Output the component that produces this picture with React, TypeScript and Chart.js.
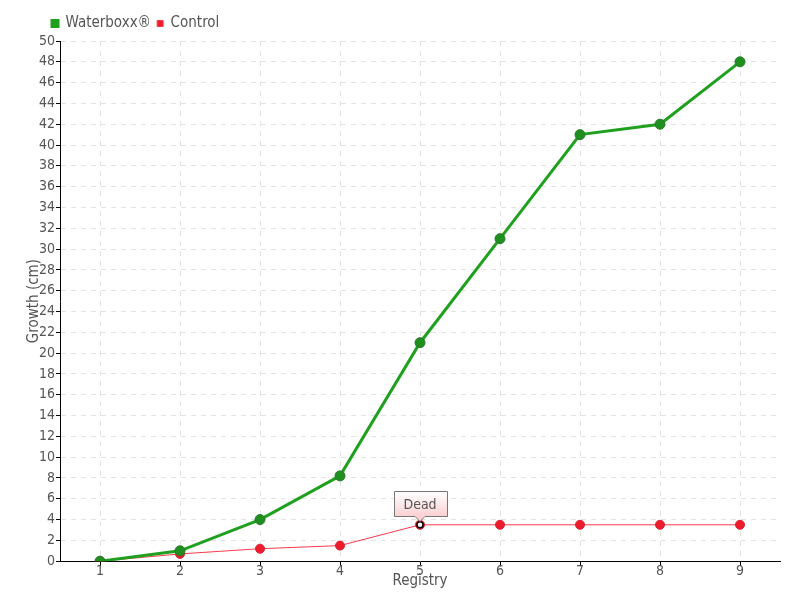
import React, { useEffect, useRef } from "react";
import { Chart, registerables } from "chart.js";

Chart.register(...registerables);

const categories = ["1", "2", "3", "4", "5", "6", "7", "8", "9"];
const waterboxx = [0, 1, 4, 8.2, 21, 31, 41, 42, 48];
const control = [0, 0.7, 1.2, 1.5, 3.5, 3.5, 3.5, 3.5, 3.5];
const annotationIndex = 4;
const annotationText = "Dead";

const FONT = "'Liberation Sans Narrow', 'DejaVu Sans Condensed', sans-serif";
const TEXT = "#555555";

const deadLabelPlugin = {
  id: "deadLabel",
  afterLayout(chart: any) {
    if (chart.legend) {
      chart.legend.left += 26;
      chart.legend.right += 26;
    }
  },
  afterDatasetsDraw(chart: any) {
    const meta = chart.getDatasetMeta(1);
    const pt = meta.data[annotationIndex];
    if (!pt) return;
    const ctx = chart.ctx;
    const x = pt.x;
    const y = pt.y;
    ctx.save();
    ctx.beginPath();
    ctx.arc(x, y, 3, 0, Math.PI * 2);
    ctx.fillStyle = "#ffffff";
    ctx.fill();
    ctx.lineWidth = 1.5;
    ctx.strokeStyle = "#000000";
    ctx.stroke();
    ctx.font = "14px " + FONT;
    const tw = ctx.measureText(annotationText).width;
    const w = Math.round(tw + 20);
    const h = 25;
    const left = Math.round(x - w / 2) + 0.5;
    const bottom = Math.round(y - 9) + 0.5;
    const top = bottom - h;
    const grad = ctx.createLinearGradient(0, top, 0, bottom);
    grad.addColorStop(0, "#ffffff");
    grad.addColorStop(1, "#fbd0d3");
    ctx.beginPath();
    ctx.moveTo(left, top);
    ctx.lineTo(left + w, top);
    ctx.lineTo(left + w, bottom);
    ctx.lineTo(x + 5, bottom);
    ctx.lineTo(x, bottom + 5);
    ctx.lineTo(x - 5, bottom);
    ctx.lineTo(left, bottom);
    ctx.closePath();
    ctx.fillStyle = grad;
    ctx.fill();
    ctx.strokeStyle = "#777777";
    ctx.lineWidth = 1;
    ctx.stroke();
    ctx.fillStyle = TEXT;
    ctx.textAlign = "center";
    ctx.textBaseline = "middle";
    ctx.fillText(annotationText, x, top + h / 2 + 1);
    ctx.restore();
  },
};

export default function App() {
  const ref = useRef<HTMLCanvasElement | null>(null);
  useEffect(() => {
    if (!ref.current) return;
    const chart = new Chart(ref.current, {
      type: "line",
      data: {
        labels: categories,
        datasets: [
          {
            label: "Waterboxx®",
            data: waterboxx,
            borderColor: "#1fa01f",
            backgroundColor: "#1fa01f",
            borderWidth: 3,
            pointRadius: 5,
            pointBackgroundColor: "#1f8f1f",
            pointBorderColor: "#2a7a2a",
            pointBorderWidth: 1,
            tension: 0,
          },
          {
            label: "Control",
            data: control,
            borderColor: "#ff3b4e",
            backgroundColor: "#ee1c2c",
            borderWidth: 1,
            pointRadius: 4.5,
            pointBackgroundColor: "#ee1c2c",
            pointBorderColor: "#d9202e",
            pointBorderWidth: 1,
            tension: 0,
          },
        ],
      },
      options: {
        responsive: false,
        animation: false,
        layout: { padding: { left: 20, right: 20, top: 10, bottom: 10 } },
        plugins: {
          legend: {
            position: "top",
            align: "start",
            labels: {
              boxWidth: 6,
              boxHeight: 6,
              padding: 6,
              color: TEXT,
              font: { family: FONT, size: 15 },
            },
          },
          tooltip: { enabled: false },
        },
        scales: {
          x: {
            offset: true,
            grid: {
              color: "#e3e3e3",
              tickLength: 5,
              tickColor: "#000000",
              offset: false,
            },
            border: { color: "#000000", width: 1, dash: [5, 5] },
            ticks: { color: TEXT, font: { family: FONT, size: 14 }, padding: -3 },
            title: {
              display: true,
              text: "Registry",
              color: TEXT,
              font: { family: FONT, size: 15 },
              padding: { top: -5, bottom: 0 },
            },
          },
          y: {
            min: 0,
            max: 50,
            grid: {
              color: "#e3e3e3",
              tickLength: 4,
              tickColor: "#000000",
            },
            border: { color: "#000000", width: 1, dash: [5, 5] },
            ticks: {
              stepSize: 2,
              autoSkip: false,
              color: TEXT,
              font: { family: FONT, size: 14 },
              padding: 1,
            },
            title: {
              display: true,
              text: "Growth (cm)",
              color: TEXT,
              font: { family: FONT, size: 15 },
              padding: { top: 5, bottom: -5 },
            },
          },
        },
      },
      plugins: [deadLabelPlugin],
    } as any);
    return () => chart.destroy();
  }, []);
  return (
    <div style={{ position: "fixed", left: 0, top: 0, width: 800, height: 600 }}>
      <canvas ref={ref} width={800} height={600} />
    </div>
  );
}
